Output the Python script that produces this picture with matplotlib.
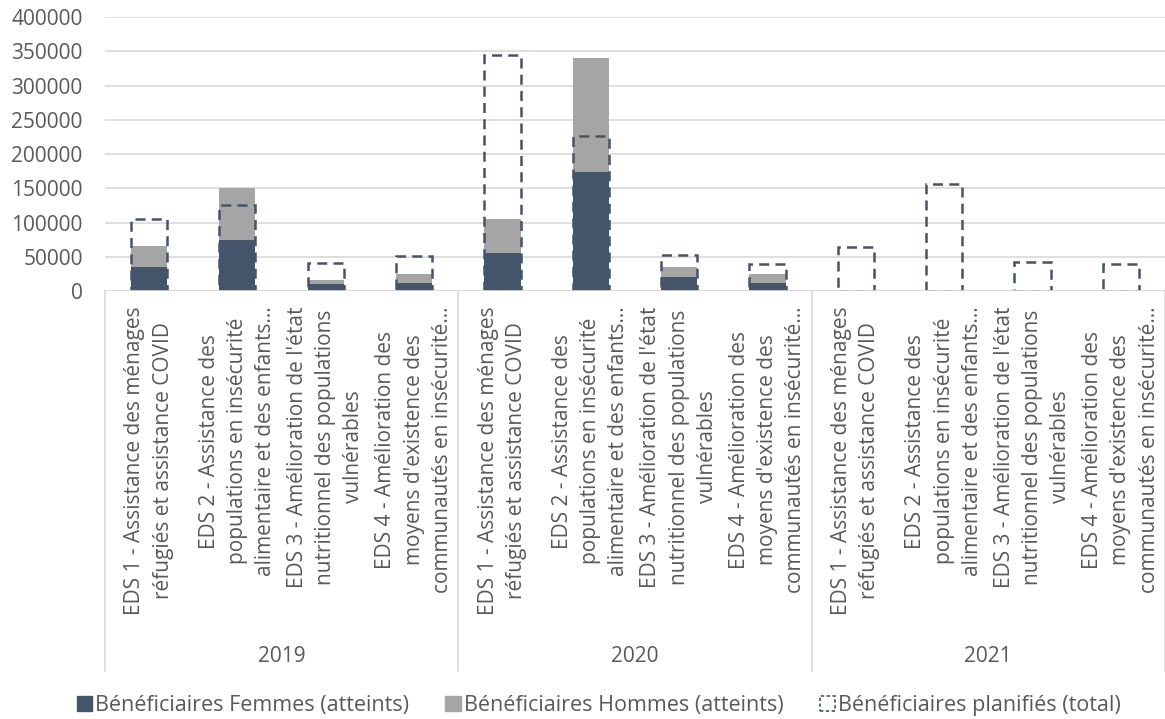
import numpy as np
import matplotlib.pyplot as plt
from matplotlib.patches import Patch
from matplotlib.transforms import blended_transform_factory

plt.rcParams['font.family'] = ['Open Sans', 'DejaVu Sans']

years = ["2019", "2020", "2021"]
categories = [
    "EDS 1 - Assistance des ménages\nréfugiés et assistance COVID",
    "EDS 2 - Assistance des\npopulations en insécurité\nalimentaire et des enfants…",
    "EDS 3 - Amélioration de l'état\nnutritionnel des populations\nvulnérables",
    "EDS 4 - Amélioration des\nmoyens d'existence des\ncommunautés en insécurité…",
]
femmes = [36000, 74500, 9800, 12000,
          56000, 174000, 20000, 11500,
          0, 0, 0, 0]
hommes = [30000, 75500, 6200, 12800,
          50000, 167000, 14600, 13300,
          0, 0, 0, 0]
planifies = [106000, 125500, 41300, 51500,
             345500, 226000, 52500, 39400,
             64700, 157000, 42800, 39400]

dark = "#44546A"
gray = "#A5A5A5"
grid = "#D9D9D9"
txt = "#595959"

fig = plt.figure(figsize=(11.65, 7.19), dpi=100)
ax = fig.add_axes([0.09, 0.595, 0.91, 0.381])

x = np.arange(len(femmes))
w = 0.41
ax.bar(x, femmes, w, color=dark, zorder=2)
ax.bar(x, hommes, w, bottom=femmes, color=gray, zorder=2)
ax.bar(x, planifies, w, facecolor="none", edgecolor=dark, linewidth=1.8,
       linestyle=(0, (4, 2.5)), zorder=3)

ax.set_xlim(-0.5, len(femmes) - 0.5)
ax.set_ylim(0, 400000)
ax.set_yticks(np.arange(0, 400001, 50000))
ax.yaxis.grid(True, color=grid, linewidth=1.2, zorder=0)
ax.set_axisbelow(True)
for s in ax.spines.values():
    s.set_visible(False)
ax.axhline(0, color=grid, linewidth=1.2, zorder=5)
ax.tick_params(axis="y", length=0, labelsize=15, labelcolor=txt, pad=16)
ax.set_xticks([])

# multi-level category axis
trans = blended_transform_factory(ax.transData, ax.transAxes)
for i in range(len(femmes)):
    ax.text(i, -0.055, categories[i % 4], transform=trans, rotation=90,
            ha="center", va="top", multialignment="center",
            fontsize=15, color=txt, linespacing=1.45)
for j, yr in enumerate(years):
    ax.text(4 * j + 1.5, -1.335, yr, transform=trans, ha="center", va="center",
            fontsize=15, color=txt)
for b in [-0.5, 3.5, 7.5, 11.5]:
    ax.plot([b, b], [0, -1.385], transform=trans, color=grid, linewidth=1.2,
            clip_on=False)

handles = [
    Patch(facecolor=dark, edgecolor=dark),
    Patch(facecolor=gray, edgecolor=gray),
    Patch(facecolor="none", edgecolor=dark, linestyle=(0, (2, 1.5)), linewidth=1.2),
]
labels = ["Bénéficiaires Femmes (atteints)", "Bénéficiaires Hommes (atteints)",
          "Bénéficiaires planifiés (total)"]
leg = fig.legend(handles, labels, loc="center", bbox_to_anchor=(0.514, 0.019),
                 ncol=3, frameon=False, fontsize=15.5, handlelength=0.7,
                 handleheight=0.7, handletextpad=0.15, columnspacing=1.7)
for t in leg.get_texts():
    t.set_color(txt)

fig.savefig("out.png", dpi=100)
